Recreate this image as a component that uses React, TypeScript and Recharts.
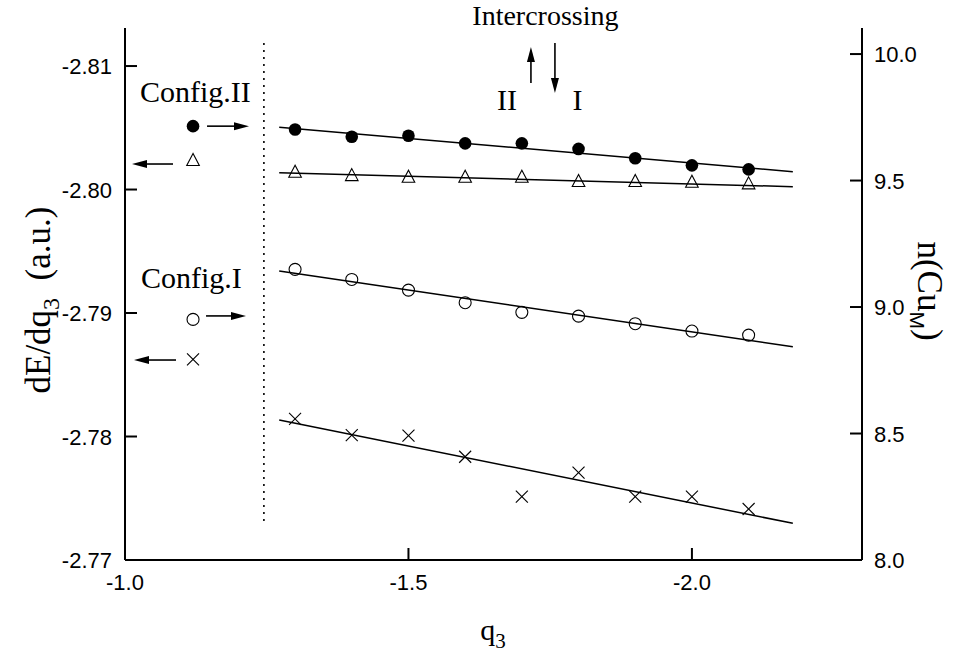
import React from 'react';
import { ComposedChart, Scatter, XAxis, YAxis } from 'recharts';

const SERIF = '"Liberation Serif", "Times New Roman", serif';
const SANS = '"Liberation Sans", Arial, sans-serif';

// ---- data ----
const q3 = [-1.3, -1.4, -1.5, -1.6, -1.7, -1.8, -1.9, -2.0, -2.1];
const configIIn = [9.702, 9.673, 9.677, 9.647, 9.647, 9.625, 9.588, 9.56, 9.544];
const configIIdE = [-2.80144, -2.80117, -2.80104, -2.80104, -2.80104, -2.80069, -2.80069, -2.80063, -2.8005];
const configIn = [9.149, 9.109, 9.067, 9.017, 8.979, 8.964, 8.934, 8.905, 8.889];
const configIdE = [-2.78142, -2.78012, -2.78008, -2.77836, -2.77513, -2.77707, -2.77513, -2.77513, -2.77413];

const fitQ = [-1.272, -2.178];
const fitIIn = [9.711, 9.535];
const fitIIdE = [-2.80136, -2.80023];
const fitIn = [9.142, 8.843];
const fitIdE = [-2.78134, -2.77297];

const refQ = [-1.12];
const refIIn = [9.715];
const refIIdE = [-2.80239];
const refIn = [8.951];
const refIdE = [-2.78625];

const dividerQ = [-1.245, -1.245];
const dividerdE = [-2.81186, -2.77308];

const intercrossQ = [-1.7372];
const intercrossN = [9.957];

const xTicks = [-1.0, -1.5, -2.0];
const leftTicks = [-2.81, -2.8, -2.79, -2.78, -2.77];
const rightTicks = [8.0, 8.5, 9.0, 9.5, 10.0];

const pts = (xs: number[], ys: number[]) => xs.map((x, i) => ({ x, y: ys[i] }));

// ---- shapes ----
const Arrow = ({ x1, y1, x2, y2 }: any) => {
  const dx = x2 - x1;
  const dy = y2 - y1;
  const len = Math.hypot(dx, dy);
  const ux = dx / len;
  const uy = dy / len;
  const hl = 15;
  const hw = 4;
  const bx = x2 - ux * hl;
  const by = y2 - uy * hl;
  return (
    <g>
      <line x1={x1} y1={y1} x2={bx} y2={by} stroke="#000" strokeWidth={1.6} />
      <polygon
        points={`${x2},${y2} ${bx - uy * hw},${by + ux * hw} ${bx + uy * hw},${by - ux * hw}`}
        fill="#000"
      />
    </g>
  );
};

const FilledCircle = ({ cx, cy }: any) => <circle cx={cx} cy={cy} r={6.3} fill="#000" />;
const OpenCircle = ({ cx, cy }: any) => (
  <circle cx={cx} cy={cy} r={6} fill="none" stroke="#000" strokeWidth={1.1} />
);
const Triangle = ({ cx, cy }: any) => (
  <polygon
    points={`${cx},${cy - 6.5} ${cx - 6.3},${cy + 5.5} ${cx + 6.3},${cy + 5.5}`}
    fill="none"
    stroke="#000"
    strokeWidth={1.1}
  />
);
const Cross = ({ cx, cy }: any) => (
  <g stroke="#000" strokeWidth={1.1}>
    <line x1={cx - 6} y1={cy - 6} x2={cx + 6} y2={cy + 6} />
    <line x1={cx - 6} y1={cy + 6} x2={cx + 6} y2={cy - 6} />
  </g>
);
const NoShape = () => <g />;

const RefIIFilled = ({ cx, cy }: any) => (
  <g>
    <FilledCircle cx={cx} cy={cy} />
    <Arrow x1={cx + 14} y1={cy} x2={cx + 56} y2={cy} />
    <text x={cx - 53} y={cy - 24} fontFamily={SERIF} fontSize={30} fill="#000">
      Config.II
    </text>
  </g>
);
const RefIITriangle = ({ cx, cy }: any) => (
  <g>
    <Triangle cx={cx} cy={cy} />
    <Arrow x1={cx - 20} y1={cy + 4} x2={cx - 61} y2={cy + 4} />
  </g>
);
const RefIOpen = ({ cx, cy }: any) => (
  <g>
    <OpenCircle cx={cx} cy={cy} />
    <Arrow x1={cx + 13} y1={cy - 3.5} x2={cx + 53} y2={cy - 3.5} />
    <text x={cx - 52} y={cy - 31} fontFamily={SERIF} fontSize={30} fill="#000">
      Config.I
    </text>
  </g>
);
const RefICross = ({ cx, cy }: any) => (
  <g>
    <Cross cx={cx} cy={cy} />
    <Arrow x1={cx - 17} y1={cy + 0.7} x2={cx - 59} y2={cy + 0.7} />
  </g>
);
const Intercross = ({ cx, cy }: any) => (
  <g>
    <text x={cx + 2.5} y={cy - 40} textAnchor="middle" fontFamily={SERIF} fontSize={28} fill="#000">
      Intercrossing
    </text>
    <Arrow x1={cx - 12} y1={cy + 18} x2={cx - 12} y2={cy - 18} />
    <Arrow x1={cx + 12} y1={cy - 22} x2={cx + 12} y2={cy + 28} />
    <text x={cx - 36} y={cy + 45} textAnchor="middle" fontFamily={SERIF} fontSize={30} fill="#000">
      II
    </text>
    <text x={cx + 34.5} y={cy + 45} textAnchor="middle" fontFamily={SERIF} fontSize={30} fill="#000">
      I
    </text>
  </g>
);

// ---- ticks ----
const XTick = ({ x, y, payload }: any) => (
  <g>
    <line x1={x} y1={y} x2={x} y2={y - 12} stroke="#000" strokeWidth={2} />
    <text x={x} y={y + 30} textAnchor="middle" fontFamily={SANS} fontSize={22} fill="#000">
      {Number(payload.value).toFixed(1)}
    </text>
  </g>
);
const LeftTick = ({ x, y, payload }: any) => (
  <g>
    <line x1={x} y1={y} x2={x + 12} y2={y} stroke="#000" strokeWidth={2} />
    <text x={x - 13} y={y + 8} textAnchor="end" fontFamily={SANS} fontSize={22} fill="#000">
      {Number(payload.value).toFixed(2)}
    </text>
  </g>
);
const RightTick = ({ x, y, payload }: any) => (
  <g>
    <line x1={x} y1={y} x2={x - 12} y2={y} stroke="#000" strokeWidth={2} />
    <text x={x + 12} y={y + 8} textAnchor="start" fontFamily={SANS} fontSize={22} fill="#000">
      {Number(payload.value).toFixed(1)}
    </text>
  </g>
);

const LeftTitle = () => (
  <text transform="translate(50,300) rotate(-90)" textAnchor="middle" fontFamily={SERIF} fontSize={35} fill="#000">
    dE/dq
    <tspan fontSize={24} dy={9}>3</tspan>
    <tspan dy={-9}>{'\u00a0\u00a0(a.u.)'}</tspan>
  </text>
);
const RightTitle = () => (
  <text transform="translate(918,291) rotate(90)" textAnchor="middle" fontFamily={SERIF} fontSize={35} fill="#000">
    n(Cu
    <tspan fontFamily={SANS} fontSize={21} dy={8}>M</tspan>
    <tspan dy={-8}>)</tspan>
  </text>
);
const XTitle = () => (
  <text x={493} y={640} textAnchor="middle" fontFamily={SERIF} fontSize={30} fill="#000">
    q
    <tspan fontSize={21} dy={8}>3</tspan>
  </text>
);

const lineStyle = { stroke: '#000', strokeWidth: 1.5 };

export default function App() {
  return (
    <div style={{ position: 'absolute', left: 0, top: 0, background: '#fff' }}>
      <ComposedChart width={954} height={652} margin={{ top: 28, right: 0, bottom: 0, left: 0 }}>
        <XAxis
          type="number"
          dataKey="x"
          domain={[-2.3, -1.0]}
          reversed
          ticks={xTicks}
          interval={0}
          tickSize={0}
          tickMargin={0}
          tickLine={false}
          tick={<XTick />}
          axisLine={{ stroke: '#000', strokeWidth: 2 }}
          height={92}
          label={{ content: () => <XTitle /> }}
        />
        <YAxis
          yAxisId="left"
          orientation="left"
          type="number"
          dataKey="y"
          domain={[-2.81308, -2.77]}
          reversed
          ticks={leftTicks}
          interval={0}
          tickSize={0}
          tickMargin={0}
          tickLine={false}
          tick={<LeftTick />}
          axisLine={{ stroke: '#000', strokeWidth: 2 }}
          width={125}
          label={{ content: () => <LeftTitle /> }}
        />
        <YAxis
          yAxisId="right"
          orientation="right"
          type="number"
          dataKey="y"
          domain={[8, 10.103]}
          ticks={rightTicks}
          interval={0}
          tickSize={0}
          tickMargin={0}
          tickLine={false}
          tick={<RightTick />}
          axisLine={{ stroke: '#000', strokeWidth: 2 }}
          width={92}
          label={{ content: () => <RightTitle /> }}
        />

        <Scatter
          yAxisId="left"
          data={pts(dividerQ, dividerdE)}
          line={{ stroke: '#000', strokeWidth: 1.6, strokeDasharray: '2 5' }}
          shape={NoShape}
          isAnimationActive={false}
        />
        <Scatter yAxisId="right" data={pts(fitQ, fitIIn)} line={lineStyle} shape={NoShape} isAnimationActive={false} />
        <Scatter yAxisId="left" data={pts(fitQ, fitIIdE)} line={lineStyle} shape={NoShape} isAnimationActive={false} />
        <Scatter yAxisId="right" data={pts(fitQ, fitIn)} line={lineStyle} shape={NoShape} isAnimationActive={false} />
        <Scatter yAxisId="left" data={pts(fitQ, fitIdE)} line={lineStyle} shape={NoShape} isAnimationActive={false} />

        <Scatter yAxisId="right" data={pts(q3, configIIn)} shape={FilledCircle} isAnimationActive={false} />
        <Scatter yAxisId="left" data={pts(q3, configIIdE)} shape={Triangle} isAnimationActive={false} />
        <Scatter yAxisId="right" data={pts(q3, configIn)} shape={OpenCircle} isAnimationActive={false} />
        <Scatter yAxisId="left" data={pts(q3, configIdE)} shape={Cross} isAnimationActive={false} />

        <Scatter yAxisId="right" data={pts(refQ, refIIn)} shape={RefIIFilled} isAnimationActive={false} />
        <Scatter yAxisId="left" data={pts(refQ, refIIdE)} shape={RefIITriangle} isAnimationActive={false} />
        <Scatter yAxisId="right" data={pts(refQ, refIn)} shape={RefIOpen} isAnimationActive={false} />
        <Scatter yAxisId="left" data={pts(refQ, refIdE)} shape={RefICross} isAnimationActive={false} />

        <Scatter yAxisId="right" data={pts(intercrossQ, intercrossN)} shape={Intercross} isAnimationActive={false} />
      </ComposedChart>
    </div>
  );
}
